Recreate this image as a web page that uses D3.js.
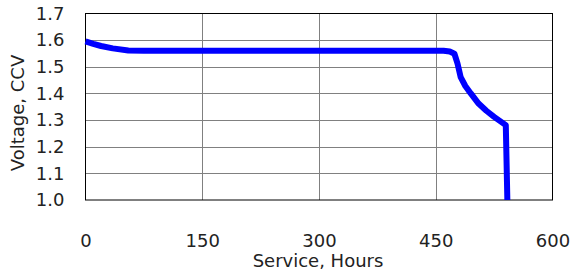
<!DOCTYPE html>
<html>
<head>
<meta charset="utf-8">
<script src="https://cdn.jsdelivr.net/npm/d3@7"></script>
<style>
  body { margin: 0; background: #fff; }
  text { font-family: "DejaVu Sans", sans-serif; fill: #222; }
</style>
</head>
<body>
<div id="chart"></div>
<script>
var hours = [0, 10, 20, 35, 55, 75, 100, 200, 300, 400, 460, 468, 474, 478, 482, 488, 495, 505, 515, 525, 540, 542];
var volts = [1.595, 1.586, 1.578, 1.569, 1.561, 1.560, 1.560, 1.560, 1.560, 1.560, 1.560, 1.557, 1.549, 1.512, 1.461, 1.428, 1.400, 1.362, 1.335, 1.312, 1.281, 1.0];
var xTicks = [0, 150, 300, 450, 600];
var yTicks = [1.0, 1.1, 1.2, 1.3, 1.4, 1.5, 1.6, 1.7];

var width = 570, height = 273;
var m = {left: 85.5, right: 17.5, top: 13.5, bottom: 73};
var fontSize = 18;

var svg = d3.select("#chart").append("svg")
    .attr("width", width)
    .attr("height", height);

var x = d3.scaleLinear().domain([0, 600]).range([m.left, width - m.right]);
var y = d3.scaleLinear().domain([1.0, 1.7]).range([height - m.bottom, m.top]);

// grid
svg.append("g")
    .selectAll("line").data(yTicks.slice(1, -1))
    .enter().append("line")
    .attr("x1", x(0)).attr("x2", x(600))
    .attr("y1", function (d) { return Math.round(y(d)) + 0.5; })
    .attr("y2", function (d) { return Math.round(y(d)) + 0.5; })
    .attr("stroke", "#808080").attr("stroke-width", 1);

svg.append("g")
    .selectAll("line").data(xTicks.slice(1, -1))
    .enter().append("line")
    .attr("y1", y(1.0)).attr("y2", y(1.7))
    .attr("x1", function (d) { return Math.round(x(d)) + 0.5; })
    .attr("x2", function (d) { return Math.round(x(d)) + 0.5; })
    .attr("stroke", "#808080").attr("stroke-width", 1);

svg.append("rect")
    .attr("x", x(0)).attr("y", y(1.7))
    .attr("width", x(600) - x(0)).attr("height", y(1.0) - y(1.7))
    .attr("fill", "none").attr("stroke", "#000").attr("stroke-width", 1);

// axes
var xAxis = svg.append("g")
    .attr("transform", "translate(0," + (y(1.0) + 47) + ")")
    .call(d3.axisBottom(x).tickValues(xTicks).tickSize(0).tickPadding(0));
var yAxis = svg.append("g")
    .attr("transform", "translate(" + (x(0) - 21) + ",0)")
    .call(d3.axisLeft(y).tickValues(yTicks).tickSize(0).tickPadding(0).tickFormat(d3.format(".1f")));
[xAxis, yAxis].forEach(function (a) {
    a.select(".domain").remove();
    a.selectAll("text").attr("font-size", fontSize).attr("fill", "#222")
        .style("font-family", "'DejaVu Sans', sans-serif");
});
xAxis.selectAll("text").attr("dy", 0);

svg.append("text")
    .attr("x", 318).attr("y", 267)
    .attr("text-anchor", "middle").attr("font-size", fontSize)
    .text("Service, Hours");

svg.append("text")
    .attr("transform", "translate(24,113) rotate(-90)")
    .attr("text-anchor", "middle").attr("font-size", fontSize)
    .text("Voltage, CCV");

// curve
var pts = hours.map(function (h, i) { return [h, volts[i]]; });
svg.append("path")
    .datum(pts)
    .attr("fill", "none")
    .attr("stroke", "#0000ff")
    .attr("stroke-width", 6)
    .attr("stroke-linejoin", "round")
    .attr("d", d3.line()
        .x(function (d) { return x(d[0]); })
        .y(function (d) { return y(d[1]); }));
</script>
</body>
</html>
